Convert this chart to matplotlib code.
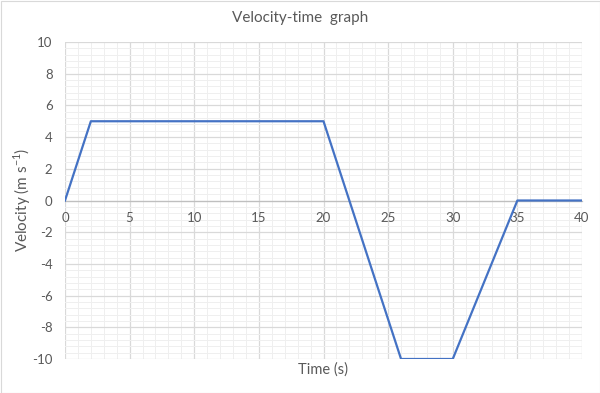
import matplotlib
matplotlib.use("Agg")
import matplotlib.pyplot as plt
from matplotlib.ticker import MultipleLocator

time_s = [0, 2, 20, 26, 30, 35, 40]
velocity = [0, 5, 5, -10, -10, 0, 0]
x_ticks = [0, 5, 10, 15, 20, 25, 30, 35, 40]
y_ticks = [-10, -8, -6, -4, -2, 0, 2, 4, 6, 8, 10]

plt.rcParams['font.family'] = ['Lato', 'DejaVu Sans']
plt.rcParams['axes.unicode_minus'] = False
plt.rcParams['mathtext.fontset'] = 'custom'
plt.rcParams['mathtext.rm'] = 'Lato'
txt = '#595959'

fig = plt.figure(figsize=(6, 3.93), dpi=100)
rect = [65/600, 1-359/393, (582-65)/600, (359-42)/393]

# background grid axes
gax = fig.add_axes(rect, zorder=0)
gax.set_xlim(0, 40)
gax.set_ylim(-10, 10)
gax.set_xticks(x_ticks)
gax.set_yticks(y_ticks)
gax.xaxis.set_minor_locator(MultipleLocator(1))
gax.yaxis.set_minor_locator(MultipleLocator(0.4))
gax.grid(which='major', color='#d9d9d9', linewidth=0.9)
gax.grid(which='minor', color='#efefef', linewidth=0.7)
gax.tick_params(which='both', length=0, labelbottom=False, labelleft=False)
for s in gax.spines.values():
    s.set_visible(False)

# main axes
ax = fig.add_axes(rect, zorder=1)
ax.patch.set_visible(False)
ax.set_xlim(0, 40)
ax.set_ylim(-10, 10)
ax.set_xticks(x_ticks)
ax.set_yticks(y_ticks)
for s in ['top', 'right', 'left']:
    ax.spines[s].set_visible(False)
ax.spines['bottom'].set_position(('data', 0))
ax.spines['bottom'].set_color('#bfbfbf')
ax.spines['bottom'].set_linewidth(0.9)
ax.tick_params(which='both', length=0, colors=txt, labelsize=9.5)
ax.tick_params(axis='x', pad=8)
ax.tick_params(axis='y', pad=9)

ax.plot(time_s, velocity, color='#4472c4', linewidth=1.6, zorder=3)

fig.text(0.5, 1-18/393, 'Velocity-time  graph', ha='center', va='center', fontsize=11, color=txt)
fig.text(323/600, 1-370/393, 'Time (s)', ha='center', va='center', fontsize=10.5, color=txt)
fig.text(22/600, 1-200/393, 'Velocity (m s$^{\\mathrm{-1}}$)', ha='center', va='center', rotation=90, fontsize=11, color=txt)

fig.patches.append(plt.Rectangle((0.5/600, 0.5/393), 599/600, 392/393, transform=fig.transFigure,
                                 fill=False, edgecolor='#d9d9d9', linewidth=0.8))

fig.savefig('out.png', dpi=100)
